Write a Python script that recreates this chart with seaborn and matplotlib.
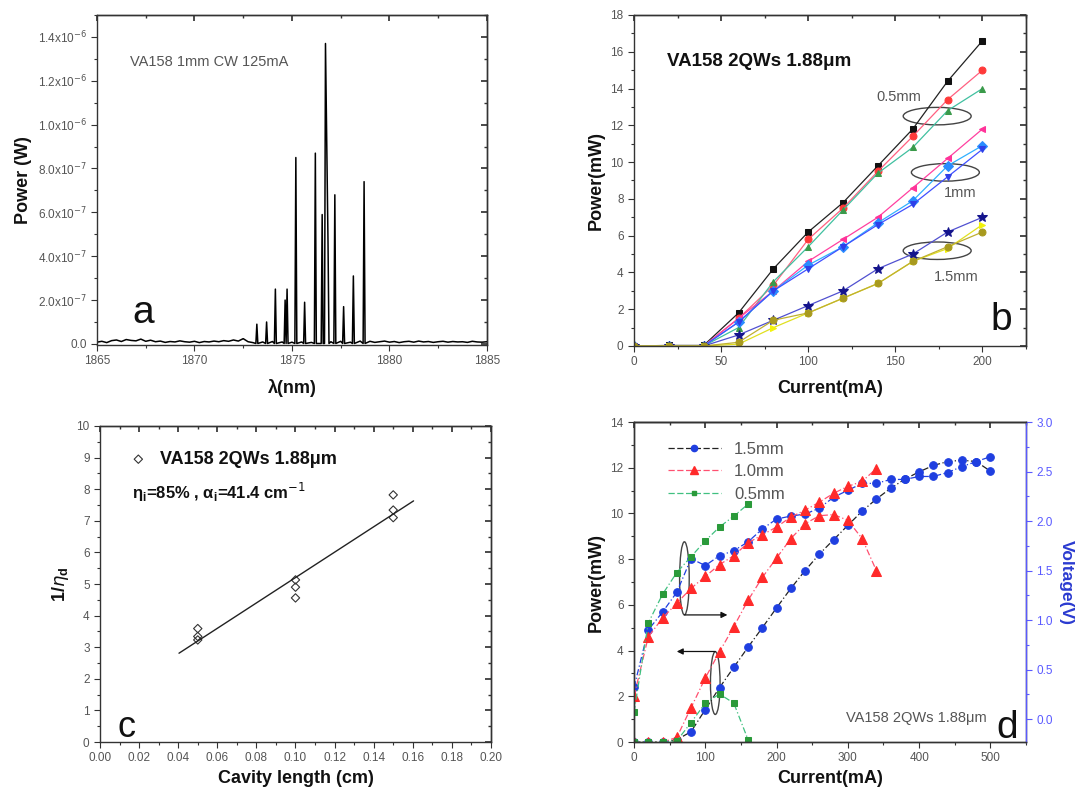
import numpy as np
import pandas as pd
import matplotlib
matplotlib.use('Agg')
import matplotlib.pyplot as plt
from matplotlib.patches import Ellipse
from matplotlib.lines import Line2D
from matplotlib.ticker import MultipleLocator, FixedLocator
import seaborn as sns

# ---------------- data ----------------
# (a) lasing spectrum, VA158 1mm CW 125mA
peak_nm = [1873.2, 1873.7, 1874.15, 1874.65, 1874.75, 1875.2, 1875.65, 1876.2,
           1876.55, 1876.72, 1876.85, 1877.2, 1877.65, 1878.15, 1878.7]
peak_w = [0.09e-6, 0.10e-6, 0.25e-6, 0.20e-6, 0.25e-6, 0.85e-6, 0.19e-6, 0.87e-6,
          0.59e-6, 1.37e-6, 0.46e-6, 0.68e-6, 0.17e-6, 0.31e-6, 0.74e-6]
base_nm = np.arange(1865.0, 1885.01, 0.25)
base_w = np.array([
    0.8, 1.2, 0.6, 1.5, 1.8, 1.1, 2.0, 1.6, 1.4, 2.2, 1.2, 1.7, 1.0, 1.3, 0.7, 1.1,
    0.9, 1.4, 1.0, 0.8, 1.2, 0.6, 1.1, 0.9, 1.3, 1.0, 1.5, 1.2, 1.8, 1.3, 2.4, 1.0,
    0.6, 1.4, 0.9, 1.5, 1.1, 1.6, 0.9, 1.2, 0.8, 1.4, 0.9, 1.0, 0.7, 1.6, 2.2, 1.5,
    1.0, 1.9, 1.2, 1.4, 0.8, 1.1, 1.3, 0.9, 1.2, 0.7, 1.0, 1.3, 0.8, 1.1, 0.6, 1.0,
    1.2, 0.8, 1.3, 0.9, 1.1, 0.7, 1.0, 1.2, 0.8, 1.1, 0.9, 1.0, 0.7, 1.2, 0.9, 0.8,
    1.0]) * 1e-8
a_yticks = [0, 2e-7, 4e-7, 6e-7, 8e-7, 1.0e-6, 1.2e-6, 1.4e-6]
a_ylabels = ['0.0', r'2.0x10$^{-7}$', r'4.0x10$^{-7}$', r'6.0x10$^{-7}$', r'8.0x10$^{-7}$',
             r'1.0x10$^{-6}$', r'1.2x10$^{-6}$', r'1.4x10$^{-6}$']

# (b) L-I curves for three cavity lengths
b_current = [0, 20, 40, 60, 80, 100, 120, 140, 160, 180, 200]
b_series = {
    '0.5mm #1': [0, 0.03, 0.03, 1.8, 4.2, 6.2, 7.8, 9.8, 11.8, 14.4, 16.6],
    '0.5mm #2': [0, 0, 0, 1.5, 3.3, 5.8, 7.5, 9.5, 11.4, 13.4, 15.0],
    '0.5mm #3': [0, 0, 0, 1.0, 3.5, 5.4, 7.4, 9.4, 10.8, 12.8, 14.0],
    '1mm #1': [0, 0, 0, 1.5, 3.0, 4.6, 5.8, 7.0, 8.6, 10.2, 11.8],
    '1mm #2': [0, 0, 0, 1.3, 3.0, 4.4, 5.4, 6.7, 7.9, 9.8, 10.9],
    '1mm #3': [0, 0, 0, 1.3, 3.0, 4.2, 5.4, 6.6, 7.7, 9.2, 10.7],
    '1.5mm #1': [0, 0, 0, 0.6, 1.4, 2.2, 3.0, 4.2, 5.0, 6.2, 7.0],
    '1.5mm #2': [0, 0, 0, 0.1, 1.0, 1.8, 2.6, 3.4, 4.6, 5.3, 6.6],
    '1.5mm #3': [0, 0, 0, 0.2, 1.4, 1.8, 2.6, 3.4, 4.6, 5.4, 6.2],
}
b_colors = ['#111111', '#ff3a3a', '#3a9a4a', '#ff3399', '#2a8cff', '#2f3fe8',
            '#14148c', '#f2f20a', '#a89a1e']
b_lines = ['#222222', '#ff6080', '#40c0a0', '#ff40a0', '#30b0ff', '#4050ff',
           '#5050d0', '#e0e020', '#c0b030']
b_markers = ['s', 'o', '^', '<', 'D', 'v', '*', '>', 'o']

# (c) inverse external efficiency vs cavity length
c_length = [0.05, 0.05, 0.05, 0.10, 0.10, 0.10, 0.15, 0.15, 0.15]
c_inv_eta = [3.59, 3.34, 3.23, 5.13, 4.90, 4.56, 7.82, 7.34, 7.10]
c_fit_x = [0.0404, 0.1604]
c_fit_y = [2.81, 7.63]

# (d) L-I-V for three lengths
d_current_15 = [0, 20, 40, 60, 80, 100, 120, 140, 160, 180, 200, 220, 240, 260,
                280, 300, 320, 340, 360, 380, 400, 420, 440, 460, 480, 500]
d_power_15 = [0, 0, 0, 0.1, 0.45, 1.42, 2.38, 3.27, 4.15, 5.0, 5.87, 6.72, 7.5,
              8.22, 8.85, 9.48, 10.1, 10.63, 11.1, 11.5, 11.82, 12.1, 12.27, 12.33,
              12.27, 11.85]
d_volt_15 = [0.32, 0.90, 1.08, 1.28, 1.62, 1.55, 1.65, 1.70, 1.79, 1.92, 2.02, 2.05,
             2.07, 2.13, 2.24, 2.31, 2.38, 2.38, 2.42, 2.42, 2.45, 2.45, 2.49, 2.55,
             2.60, 2.65]
d_current_10 = [0, 20, 40, 60, 80, 100, 120, 140, 160, 180, 200, 220, 240, 260,
                280, 300, 320, 340]
d_power_10 = [0, 0, 0, 0.2, 1.5, 2.8, 3.95, 5.05, 6.2, 7.2, 8.05, 8.9, 9.55, 9.9,
              9.95, 9.7, 8.9, 7.5]
d_volt_10 = [0.23, 0.83, 1.02, 1.17, 1.32, 1.44, 1.56, 1.65, 1.78, 1.86, 1.94, 2.04,
             2.11, 2.19, 2.28, 2.35, 2.40, 2.53]
d_current_05 = [0, 20, 40, 60, 80, 100, 120, 140, 160]
d_power_05 = [0, 0, 0, 0.05, 0.85, 1.7, 2.1, 1.7, 0.1]
d_volt_05 = [0.07, 0.97, 1.26, 1.48, 1.64, 1.80, 1.94, 2.05, 2.17]

# ---------------- style ----------------
sns.set_theme(style='ticks')
plt.rcParams['font.family'] = ['Liberation Sans', 'DejaVu Sans']
plt.rcParams['axes.linewidth'] = 1.0
plt.rcParams['axes.edgecolor'] = '#333333'
plt.rcParams['xtick.color'] = '#333333'
plt.rcParams['ytick.color'] = '#333333'
plt.rcParams['xtick.labelcolor'] = '#555555'
plt.rcParams['ytick.labelcolor'] = '#555555'
plt.rcParams['xtick.labelsize'] = 8.5
plt.rcParams['ytick.labelsize'] = 8.5

fig = plt.figure(figsize=(10.92, 7.97), dpi=100)
ax_a = fig.add_axes([0.0888, 0.5671, 0.3571, 0.4141])
ax_b = fig.add_axes([0.5806, 0.5659, 0.3590, 0.4153])
ax_c = fig.add_axes([0.0916, 0.0690, 0.3580, 0.3965])
ax_d = fig.add_axes([0.5806, 0.0690, 0.3590, 0.4015])

lab = dict(fontsize=13, fontweight='bold', color='#111111')


def mirror(ax, right=True):
    top = ax.secondary_xaxis('top')
    top.set_xticks(ax.get_xticks())
    top.xaxis.set_minor_locator(ax.xaxis.get_minor_locator())
    top.tick_params(which='both', direction='in', labeltop=False)
    top.tick_params(which='major', length=4)
    top.tick_params(which='minor', length=2)
    if right:
        r = ax.secondary_yaxis('right')
        r.set_yticks(ax.get_yticks())
        r.yaxis.set_minor_locator(ax.yaxis.get_minor_locator())
        r.tick_params(which='both', direction='in', labelright=False)
        r.tick_params(which='major', length=4)
        r.tick_params(which='minor', length=2)


def base_ticks(ax):
    ax.tick_params(which='major', direction='out', length=4, width=0.8)
    ax.tick_params(which='minor', direction='out', length=2, width=0.8)


# ---------------- (a) ----------------
pts = list(zip(base_nm, base_w))
for p, h in zip(peak_nm, peak_w):
    pts += [(p - 0.05, 0.2e-8), (p, h), (p + 0.05, 0.2e-8)]
pts = [q for q in pts if not any(abs(q[0] - p) < 0.12 and q[1] < 3e-8 and q not in
                                 [(p - 0.05, 0.2e-8), (p + 0.05, 0.2e-8)] for p in peak_nm)]
spec = pd.DataFrame(pts, columns=['nm', 'W']).sort_values('nm')
sns.lineplot(data=spec, x='nm', y='W', estimator=None, sort=True, color='black',
             lw=1.1, ax=ax_a)
ax_a.set_xlim(1865, 1885)
ax_a.set_ylim(-0.005e-6, 1.5e-6)
ax_a.xaxis.set_major_locator(MultipleLocator(5))
ax_a.xaxis.set_minor_locator(MultipleLocator(2.5))
ax_a.yaxis.set_major_locator(FixedLocator(a_yticks))
ax_a.yaxis.set_minor_locator(MultipleLocator(1e-7))
ax_a.set_yticklabels(a_ylabels)
base_ticks(ax_a)
mirror(ax_a)
ax_a.set_xlabel('λ(nm)', labelpad=8, **lab)
ax_a.set_ylabel('Power (W)', **lab)
ax_a.text(1866.7, 1.285e-6, 'VA158 1mm CW 125mA', fontsize=10.5, color='#555555',
          va='center')
ax_a.text(1866.8, 0.14e-6, 'a', fontsize=28, va='center', color='#111111')

# ---------------- (b) ----------------
for (name, vals), c, lc, m in zip(b_series.items(), b_colors, b_lines, b_markers):
    df = pd.DataFrame({'I': b_current, 'P': vals})
    sns.lineplot(data=df, x='I', y='P', color=lc, lw=0.9, ax=ax_b, marker=m,
                 markersize=7 if m == '*' else 5, markerfacecolor=c,
                 markeredgecolor=c, estimator=None)
ax_b.set_xlim(0, 225)
ax_b.set_ylim(0, 18)
ax_b.xaxis.set_major_locator(MultipleLocator(50))
ax_b.xaxis.set_minor_locator(MultipleLocator(25))
ax_b.yaxis.set_major_locator(MultipleLocator(2))
ax_b.yaxis.set_minor_locator(MultipleLocator(1))
base_ticks(ax_b)
mirror(ax_b)
ax_b.set_xlabel('Current(mA)', labelpad=8, **lab)
ax_b.set_ylabel('Power(mW)', **lab)
ax_b.text(19, 15.45, 'VA158 2QWs 1.88μm', fontsize=13.5, fontweight='semibold',
          color='#111111', va='center')
ax_b.text(211, 1.4, 'b', fontsize=28, ha='center', va='center', color='#111111')
for (cx, cy), (tx, ty, t) in zip([(174, 12.5), (178.7, 9.44), (174, 5.18)],
                                 [(152, 13.55, '0.5mm'), (187, 8.3, '1mm'),
                                  (185, 3.77, '1.5mm')]):
    ax_b.add_patch(Ellipse((cx, cy), 39, 0.95, fill=False, ec='#444444', lw=1.0))
    ax_b.text(tx, ty, t, fontsize=10.5, color='#555555', ha='center', va='center')

# ---------------- (c) ----------------
sns.lineplot(x=c_fit_x, y=c_fit_y, color='#222222', lw=1.0, ax=ax_c)
sns.scatterplot(x=c_length, y=c_inv_eta, marker='D', s=18, facecolor='none',
                edgecolor='#333333', linewidth=0.8, ax=ax_c)
ax_c.set_xlim(0, 0.20)
ax_c.set_ylim(0, 10)
ax_c.xaxis.set_major_locator(MultipleLocator(0.02))
ax_c.xaxis.set_minor_locator(MultipleLocator(0.01))
ax_c.yaxis.set_major_locator(MultipleLocator(1))
ax_c.yaxis.set_minor_locator(MultipleLocator(0.5))
ax_c.xaxis.set_major_formatter(matplotlib.ticker.FormatStrFormatter('%.2f'))
base_ticks(ax_c)
mirror(ax_c)
ax_c.set_xlabel('Cavity length (cm)', **lab)
ax_c.set_ylabel(r'1/$\eta_\mathregular{d}$', **lab)
ax_c.scatter([0.0196], [8.95], marker='D', s=18, facecolor='none',
             edgecolor='#333333', linewidth=0.8)
ax_c.text(0.0305, 8.95, 'VA158 2QWs 1.88μm', fontsize=13, fontweight='bold',
          color='#111111', va='center')
ax_c.text(0.0162, 7.9, r'η$_\mathregular{i}$=85% , α$_\mathregular{i}$=41.4 cm$^{-1}$',
          fontsize=12, fontweight='bold', color='#111111', va='center')
ax_c.text(0.0135, 0.45, 'c', fontsize=26, va='center', ha='center', color='#111111')

# ---------------- (d) ----------------
ax_v = ax_d.twinx()
ax_v.set_position(ax_d.get_position())
blue, red, green = '#1f3fe0', '#ff2a2a', '#2a9a3a'
d_sets = [
    (d_current_15, d_power_15, d_volt_15, blue, '#222222', blue, 'o', '1.5mm'),
    (d_current_10, d_power_10, d_volt_10, red, '#ff5070', '#ff5070', '^', '1.0mm'),
    (d_current_05, d_power_05, d_volt_05, green, '#40c080', '#40c080', 's', '0.5mm'),
]
handles = []
for cur, pw, vt, mc, lc_p, lc_v, m, name in d_sets:
    ms = 6.5 if m == '^' else (5.5 if m == 'o' else 4.5)
    sns.lineplot(x=cur, y=pw, color=lc_p, lw=0.9, ls=(0, (5, 2, 1, 2)), marker=m,
                 markersize=ms, markerfacecolor=mc, markeredgecolor=mc,
                 estimator=None, ax=ax_d)
    sns.lineplot(x=cur, y=vt, color=lc_v, lw=0.9, ls=(0, (5, 2, 1, 2)), marker=m,
                 markersize=ms, markerfacecolor=mc, markeredgecolor=mc,
                 estimator=None, ax=ax_v)
    handles.append(Line2D([], [], color=lc_p, lw=0.9, ls=(0, (5, 2)), marker=m,
                          markersize=ms - 1, markerfacecolor=mc, markeredgecolor=mc,
                          label=name))
ax_d.set_xlim(0, 550)
ax_d.set_ylim(0, 14)
ax_v.set_ylim(-0.232, 3.0)
ax_d.xaxis.set_major_locator(MultipleLocator(100))
ax_d.xaxis.set_minor_locator(MultipleLocator(50))
ax_d.yaxis.set_major_locator(MultipleLocator(2))
ax_d.yaxis.set_minor_locator(MultipleLocator(1))
ax_v.yaxis.set_major_locator(MultipleLocator(0.5))
ax_v.yaxis.set_minor_locator(MultipleLocator(0.25))
ax_v.yaxis.set_major_formatter(matplotlib.ticker.FormatStrFormatter('%.1f'))
base_ticks(ax_d)
mirror(ax_d, right=False)
ax_v.tick_params(which='major', direction='out', length=4, width=0.8,
                 color='#5a5aff', labelcolor='#5a5aff')
ax_v.tick_params(which='minor', direction='out', length=2, width=0.8, color='#5a5aff')
ax_v.spines['right'].set_color('#5a5aff')
ax_v.set_ylabel('Voltage(V)', fontsize=12.5, fontweight='bold', color='#2a3ad0',
                rotation=270, labelpad=15)
ax_d.set_xlabel('Current(mA)', **lab)
ax_d.set_ylabel('Power(mW)', **lab)
ax_d.legend(handles=handles, loc='upper left', bbox_to_anchor=(0.06, 0.97),
            frameon=False, handlelength=3.2, fontsize=12, labelcolor='#555555',
            borderaxespad=0.2, labelspacing=0.45)
ax_d.add_patch(Ellipse((70.7, 7.16), 13.5, 3.2, fill=False, ec='#444444', lw=1.0))
ax_d.annotate('', xy=(131, 5.56), xytext=(71, 5.56),
              arrowprops=dict(arrowstyle='-|>', lw=0.9, color='#111111',
                              mutation_scale=9, shrinkA=0, shrinkB=0))
ax_d.add_patch(Ellipse((114, 2.58), 13.5, 2.75, fill=False, ec='#444444', lw=1.0))
ax_d.annotate('', xy=(60, 3.96), xytext=(114, 3.96),
              arrowprops=dict(arrowstyle='-|>', lw=0.9, color='#111111',
                              mutation_scale=9, shrinkA=0, shrinkB=0))
ax_d.text(297, 1.05, 'VA158 2QWs 1.88μm', fontsize=10.5, color='#555555', va='center')
ax_d.text(523, 0.6, 'd', fontsize=28, ha='center', va='center', color='#111111')

fig.savefig('out.png', dpi=100)
